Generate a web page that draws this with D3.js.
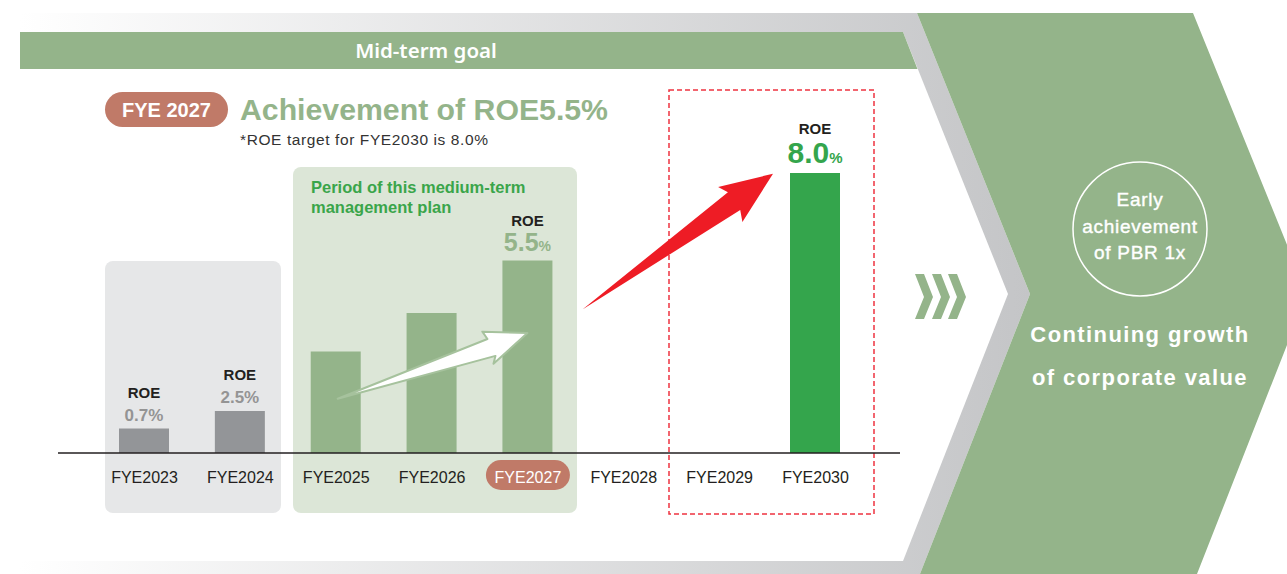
<!DOCTYPE html>
<html><head><meta charset="utf-8">
<script src="https://cdn.jsdelivr.net/npm/d3@7"></script>
<style>html,body{margin:0;padding:0;background:#fff;overflow:hidden}</style>
</head><body><svg id="c" width="1287" height="574"></svg>
<script>
// ---------- data ----------
const categories = ["FYE2023","FYE2024","FYE2025","FYE2026","FYE2027","FYE2028","FYE2029","FYE2030"];
// bar heights as drawn in the picture (ROE %, on the chart's scale)
const barValues  = [0.7, 1.2, 2.9, 4.0, 5.5, null, null, 8.0];
// printed ROE labels
const roeLabels  = ["0.7", "2.5", null, null, "5.5", null, null, "8.0"];
const barGroups  = ["past","past","plan","plan","plan","none","none","target"];
const highlightCategory = "FYE2027";
const circleLines = ["Early", "achievement", "of PBR 1x"];
const valueLines  = ["Continuing growth", "of corporate value"];

// ---------- styles ----------
const GREEN = "#94b48a", STRONG = "#34a54c", GRAYBAR = "#939598", PILL = "#c07a68", INK = "#231f20";
const barColor = {past: GRAYBAR, plan: GREEN, target: STRONG};
const valColor = {past: "#949494", plan: GREEN, target: STRONG};
const lblStyle = {
  past:   {num: 17, pct: 17, gap: 8,  roeGap: 23},
  plan:   {num: 25, pct: 14, gap: 10, roeGap: 25},
  target: {num: 30, pct: 15, gap: 10, roeGap: 29}
};

const svg = d3.select("#c");
const FONT = "'Liberation Sans', Arial, sans-serif";

// ---------- background frame ----------
const defs = svg.append("defs");
const grad = defs.append("linearGradient").attr("id","fg")
  .attr("gradientUnits","userSpaceOnUse").attr("x1",20).attr("x2",1030).attr("y1",0).attr("y2",0);
grad.append("stop").attr("offset",0).attr("stop-color","#ffffff");
grad.append("stop").attr("offset",1).attr("stop-color","#c4c5c7");

const line = d3.line();
svg.append("path").attr("d", line([[20,13],[917,13],[1030,294],[920,574],[20,574]])+"Z").attr("fill","url(#fg)");
svg.append("path").attr("d", line([[20,32],[903,32],[1008,294],[903,561],[20,561]])+"Z").attr("fill","#fff");
// green chevron
svg.append("path").attr("d", line([[917,13],[1193,13],[1307,294],[1197,574],[920,574],[1030,294]])+"Z").attr("fill",GREEN);
// mid-term band
svg.append("path").attr("d", line([[20,32],[903,32],[917.5,69],[20,69]])+"Z").attr("fill",GREEN);
svg.append("text").attr("x",426).attr("y",58).attr("text-anchor","middle")
  .attr("font-family","'Noto Sans', sans-serif").attr("font-weight",600).attr("font-size",20.5)
  .attr("fill","#fff").text("Mid-term goal");

// ---------- title ----------
svg.append("rect").attr("x",105).attr("y",92).attr("width",123).attr("height",35).attr("rx",17.5).attr("fill",PILL);
svg.append("text").attr("x",166.5).attr("y",117).attr("text-anchor","middle").attr("font-family",FONT)
  .attr("font-weight","bold").attr("font-size",20).attr("fill","#fff").text("FYE 2027");
svg.append("text").attr("x",240).attr("y",120).attr("font-family",FONT).attr("font-weight","bold")
  .attr("font-size",29).attr("fill",GREEN).attr("textLength",368).attr("lengthAdjust","spacingAndGlyphs")
  .text("Achievement of ROE5.5%");
svg.append("text").attr("x",240).attr("y",145).attr("font-family",FONT).attr("font-size",15.5)
  .attr("fill","#333").attr("textLength",248).attr("lengthAdjust","spacing").text("*ROE target for FYE2030 is 8.0%");

// ---------- scales ----------
const x = d3.scalePoint().domain(categories).range([144, 815]);
const y = d3.scaleLinear().domain([0, 8]).range([453, 173]);
const BW = 50;

// ---------- panels ----------
svg.append("rect").attr("x",105).attr("y",261).attr("width",176).attr("height",252).attr("rx",8).attr("fill","#e6e7e8");
svg.append("rect").attr("x",293).attr("y",167).attr("width",284).attr("height",346).attr("rx",8).attr("fill","#dce6d7");
svg.append("text").attr("font-family",FONT).attr("font-weight","bold").attr("font-size",16.5).attr("fill","#3aa54a")
  .selectAll("tspan").data(["Period of this medium-term","management plan"]).join("tspan")
  .attr("x",311).attr("y",(d,i)=>193+i*20).text(d=>d);
// dashed target box
svg.append("rect").attr("x",669).attr("y",90).attr("width",205).attr("height",424)
  .attr("fill","none").attr("stroke","#ee3340").attr("stroke-width",1.5).attr("stroke-dasharray","5,3");

// ---------- bars ----------
const data = categories.map((c,i)=>({cat:c, v:barValues[i], lbl:roeLabels[i], g:barGroups[i]}));
svg.append("g").selectAll("rect").data(data.filter(d=>d.v!=null)).join("rect")
  .attr("x", d=>x(d.cat)-BW/2).attr("width", BW)
  .attr("y", d=>y(d.v)).attr("height", d=>y(0)-y(d.v))
  .attr("fill", d=>barColor[d.g]);

// ---------- labels ----------
const lab = svg.append("g").attr("font-family",FONT).attr("font-weight","bold").attr("text-anchor","middle");
data.filter(d=>d.lbl!=null).forEach(d=>{
  const s = lblStyle[d.g];
  const base = y(d.v) - s.gap;
  const t = lab.append("text").attr("x", x(d.cat)).attr("y", base).attr("fill", valColor[d.g]);
  t.append("tspan").attr("font-size", s.num).text(d.lbl);
  t.append("tspan").attr("font-size", s.pct).text("%");
  lab.append("text").attr("x", x(d.cat)).attr("y", base - s.roeGap).attr("font-size",15).attr("fill",INK).text("ROE");
});

// ---------- arrows ----------
function arrow(t, p, shape, fill, stroke, sw){
  const dx=p[0]-t[0], dy=p[1]-t[1], L=Math.hypot(dx,dy);
  const ux=dx/L, uy=dy/L, nx=-uy, ny=ux;
  const pts = shape(L).map(([a,b])=>[t[0]+a*ux+b*nx, t[1]+a*uy+b*ny]);
  svg.append("path").attr("d", line(pts)+"Z").attr("fill",fill)
    .attr("stroke",stroke||"none").attr("stroke-width",sw||0).attr("stroke-linejoin","round");
}
arrow([x("FYE2025")+2, y(1.55)], [x("FYE2027"), y(3.43)],
  L=>[[0,0],[L*0.802,-7.4],[L*0.79,-16],[L,0],[L*0.79,18],[L*0.812,11.2]], "#fff", "#a6c29d", 2);
arrow([x("FYE2027")+55, y(4.1)], [x("FYE2030")-42, y(7.98)],
  L=>[[0,0],[L*0.797,-11],[L*0.776,-21],[L,0],[L*0.774,21.5],[L*0.796,10.5]], "#ee1c25");

// ---------- axis ----------
svg.append("line").attr("x1",58).attr("x2",900).attr("y1",y(0)).attr("y2",y(0)).attr("stroke",INK).attr("stroke-width",1.5);
const ax = svg.append("g").attr("transform",`translate(0,${y(0)})`)
  .call(d3.axisBottom(x).tickSize(0).tickPadding(18.5));
ax.select(".domain").remove();
ax.selectAll(".tick text").attr("font-family",FONT).attr("font-size",16).attr("fill",INK);
ax.selectAll(".tick").filter(d=>d===highlightCategory).each(function(){
  const g = d3.select(this);
  g.insert("rect","text").attr("x",-42).attr("y",7).attr("width",84).attr("height",30).attr("rx",15).attr("fill",PILL);
  g.select("text").attr("fill","#fff");
});

// ---------- right side ----------
const chev = svg.append("g").attr("fill",GREEN);
[915, 932, 948].forEach(x0=>{
  chev.append("path").attr("d", line([[x0,274],[x0+9,274],[x0+18,297],[x0+9,319],[x0,319],[x0+9,297]])+"Z");
});
svg.append("circle").attr("cx",1140).attr("cy",229).attr("r",67).attr("fill","none").attr("stroke","#fff").attr("stroke-width",1.5);
svg.append("text").attr("font-family",FONT).attr("font-size",19).attr("letter-spacing",0.7)
  .attr("fill","#fff").attr("stroke","#fff").attr("stroke-width",0.4).attr("text-anchor","middle")
  .selectAll("tspan").data(circleLines).join("tspan").attr("x",1140).attr("y",(d,i)=>206+i*26.5).text(d=>d);
svg.append("text").attr("font-family",FONT).attr("font-weight","bold").attr("font-size",22).attr("letter-spacing",1.4).attr("fill","#fff").attr("text-anchor","middle")
  .selectAll("tspan").data(valueLines).join("tspan").attr("x",1140).attr("y",(d,i)=>342+i*43).text(d=>d);
</script></body></html>
